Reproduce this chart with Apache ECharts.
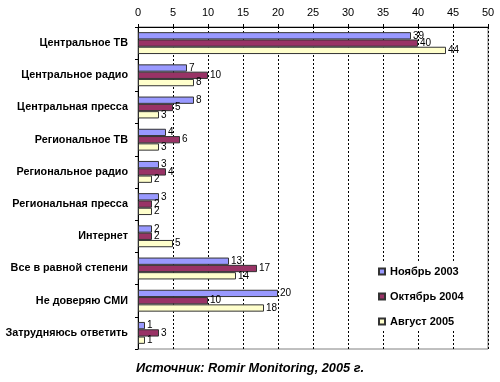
<!DOCTYPE html>
<html><head><meta charset="utf-8">
<script src="https://cdn.jsdelivr.net/npm/echarts@6/dist/echarts.min.js"></script>
<style>html,body{margin:0;padding:0;background:#fff}#c{width:500px;height:382px}</style>
</head><body><div id="c"></div>
<script>
const categories = ["Центральное ТВ","Центральное радио","Центральная пресса","Региональное ТВ","Региональное радио","Региональная пресса","Интернет","Все в равной степени","Не доверяю СМИ","Затрудняюсь ответить"];
const seriesNames = ["Ноябрь 2003","Октябрь 2004","Август 2005"];
const nov2003 = [39,7,8,4,3,3,2,13,20,1];
const oct2004 = [40,10,5,6,4,2,2,17,10,3];
const aug2005 = [44,8,3,3,2,2,5,14,18,1];
const tickLabels = ["0","5","10","15","20","25","30","35","40","45","50"];
const colors = ["#9999FF","#993366","#FFFFCC"];
const values = [nov2003, oct2004, aug2005];

const chart = echarts.init(document.getElementById('c'), null, {renderer:'canvas'});
const font = '"Liberation Sans", Arial, sans-serif';
chart.setOption({
  animation:false,
  backgroundColor:'#fff',
  textStyle:{fontFamily:font},
  grid:{left:138,right:12,top:27,bottom:33,show:true,borderColor:'#808080',borderWidth:1,containLabel:false},
  xAxis:{type:'value',position:'top',min:0,max:50,interval:5,
    axisLine:{show:true,lineStyle:{color:'#000'}},
    axisTick:{show:true,length:3,lineStyle:{color:'#000'}},
    axisLabel:{color:'#000',fontSize:11,margin:9,fontFamily:font,formatter:(v)=>tickLabels[Math.round(v/5)]},
    splitLine:{show:true,lineStyle:{color:'#000',type:[2,2],width:1}}},
  yAxis:{type:'category',data:categories,inverse:true,
    axisLine:{show:true,lineStyle:{color:'#000'}},
    axisTick:{show:true,length:3,lineStyle:{color:'#000'}},
    axisLabel:{color:'#000',fontSize:10.8,fontWeight:'bold',margin:10,fontFamily:font}},
  legend:{orient:'vertical',left:374,top:262,itemWidth:6,itemHeight:6,itemGap:14,
    backgroundColor:'#fff',padding:[4,6,4,4],
    textStyle:{color:'#000',fontSize:11,fontWeight:'bold',fontFamily:font},
    icon:'rect',data:seriesNames},
  series: seriesNames.map((n,i)=>({
    name:n,type:'bar',data:values[i],barGap:'0%',barCategoryGap:'32%',
    itemStyle:{color:colors[i],borderColor:'#333',borderWidth:1},
    label:{show:true,position:'right',distance:2,color:'#000',fontSize:10,fontFamily:font}
  })),
  graphic:[{type:'text',left:'center',top:362,style:{text:'Источник: Romir Monitoring, 2005 г.',font:'italic bold 12.8px '+font,fill:'#000'}}]
});
</script></body></html>
